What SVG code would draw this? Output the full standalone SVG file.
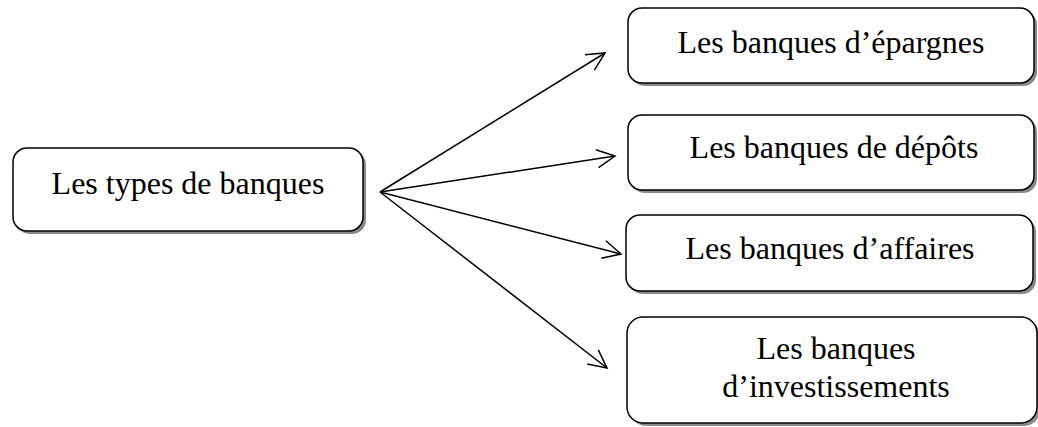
<svg xmlns="http://www.w3.org/2000/svg" width="1038" height="427" viewBox="0 0 1038 427">
<style>
.box{fill:#fff;stroke:#000;stroke-width:1.5}
.shadow{fill:#8a8a8a;stroke:none}
.lbl{font-family:"Liberation Serif","Times New Roman",serif;font-size:32px;fill:#000;text-anchor:middle}
.conn{stroke:#000;stroke-width:1.5;fill:none}
</style>
<defs>
<marker id="arr" viewBox="-20 -11 22 22" refX="0" refY="0" markerWidth="22" markerHeight="22" markerUnits="userSpaceOnUse" orient="auto">
<path d="M-18,-9 L0,0 L-18,9" fill="none" stroke="#000" stroke-width="1.5"/>
</marker>
</defs>
<rect width="1038" height="427" fill="#fff"/>
<g id="connectors">
<line class="conn" x1="380" y1="192" x2="605" y2="53" marker-end="url(#arr)"/>
<line class="conn" x1="380" y1="192" x2="615" y2="156" marker-end="url(#arr)"/>
<line class="conn" x1="380" y1="192" x2="621" y2="254" marker-end="url(#arr)"/>
<line class="conn" x1="380" y1="192" x2="607" y2="368" marker-end="url(#arr)"/>
</g>
<g id="node-types">
<rect class="shadow" x="16" y="151" width="350" height="83" rx="14"/>
<rect class="box" x="13" y="148" width="350" height="83" rx="14"/>
<text class="lbl" x="188" y="194">Les types de banques</text>
</g>
<g id="node-epargnes">
<rect class="shadow" x="631" y="11" width="406" height="75" rx="14"/>
<rect class="box" x="628" y="8" width="406" height="75" rx="14"/>
<text class="lbl" x="831" y="53">Les banques d’épargnes</text>
</g>
<g id="node-depots">
<rect class="shadow" x="631" y="118" width="406" height="75" rx="14"/>
<rect class="box" x="628" y="115" width="406" height="75" rx="14"/>
<text class="lbl" x="834" y="158">Les banques de dépôts</text>
</g>
<g id="node-affaires">
<rect class="shadow" x="629" y="218" width="407" height="76" rx="14"/>
<rect class="box" x="626" y="215" width="407" height="76" rx="14"/>
<text class="lbl" x="830" y="259">Les banques d’affaires</text>
</g>
<g id="node-investissements">
<rect class="shadow" x="630" y="320" width="410" height="106" rx="16"/>
<rect class="box" x="627" y="317" width="410" height="106" rx="16"/>
<text class="lbl" x="836" y="359">Les banques</text>
<text class="lbl" x="836" y="397">d’investissements</text>
</g>
</svg>
